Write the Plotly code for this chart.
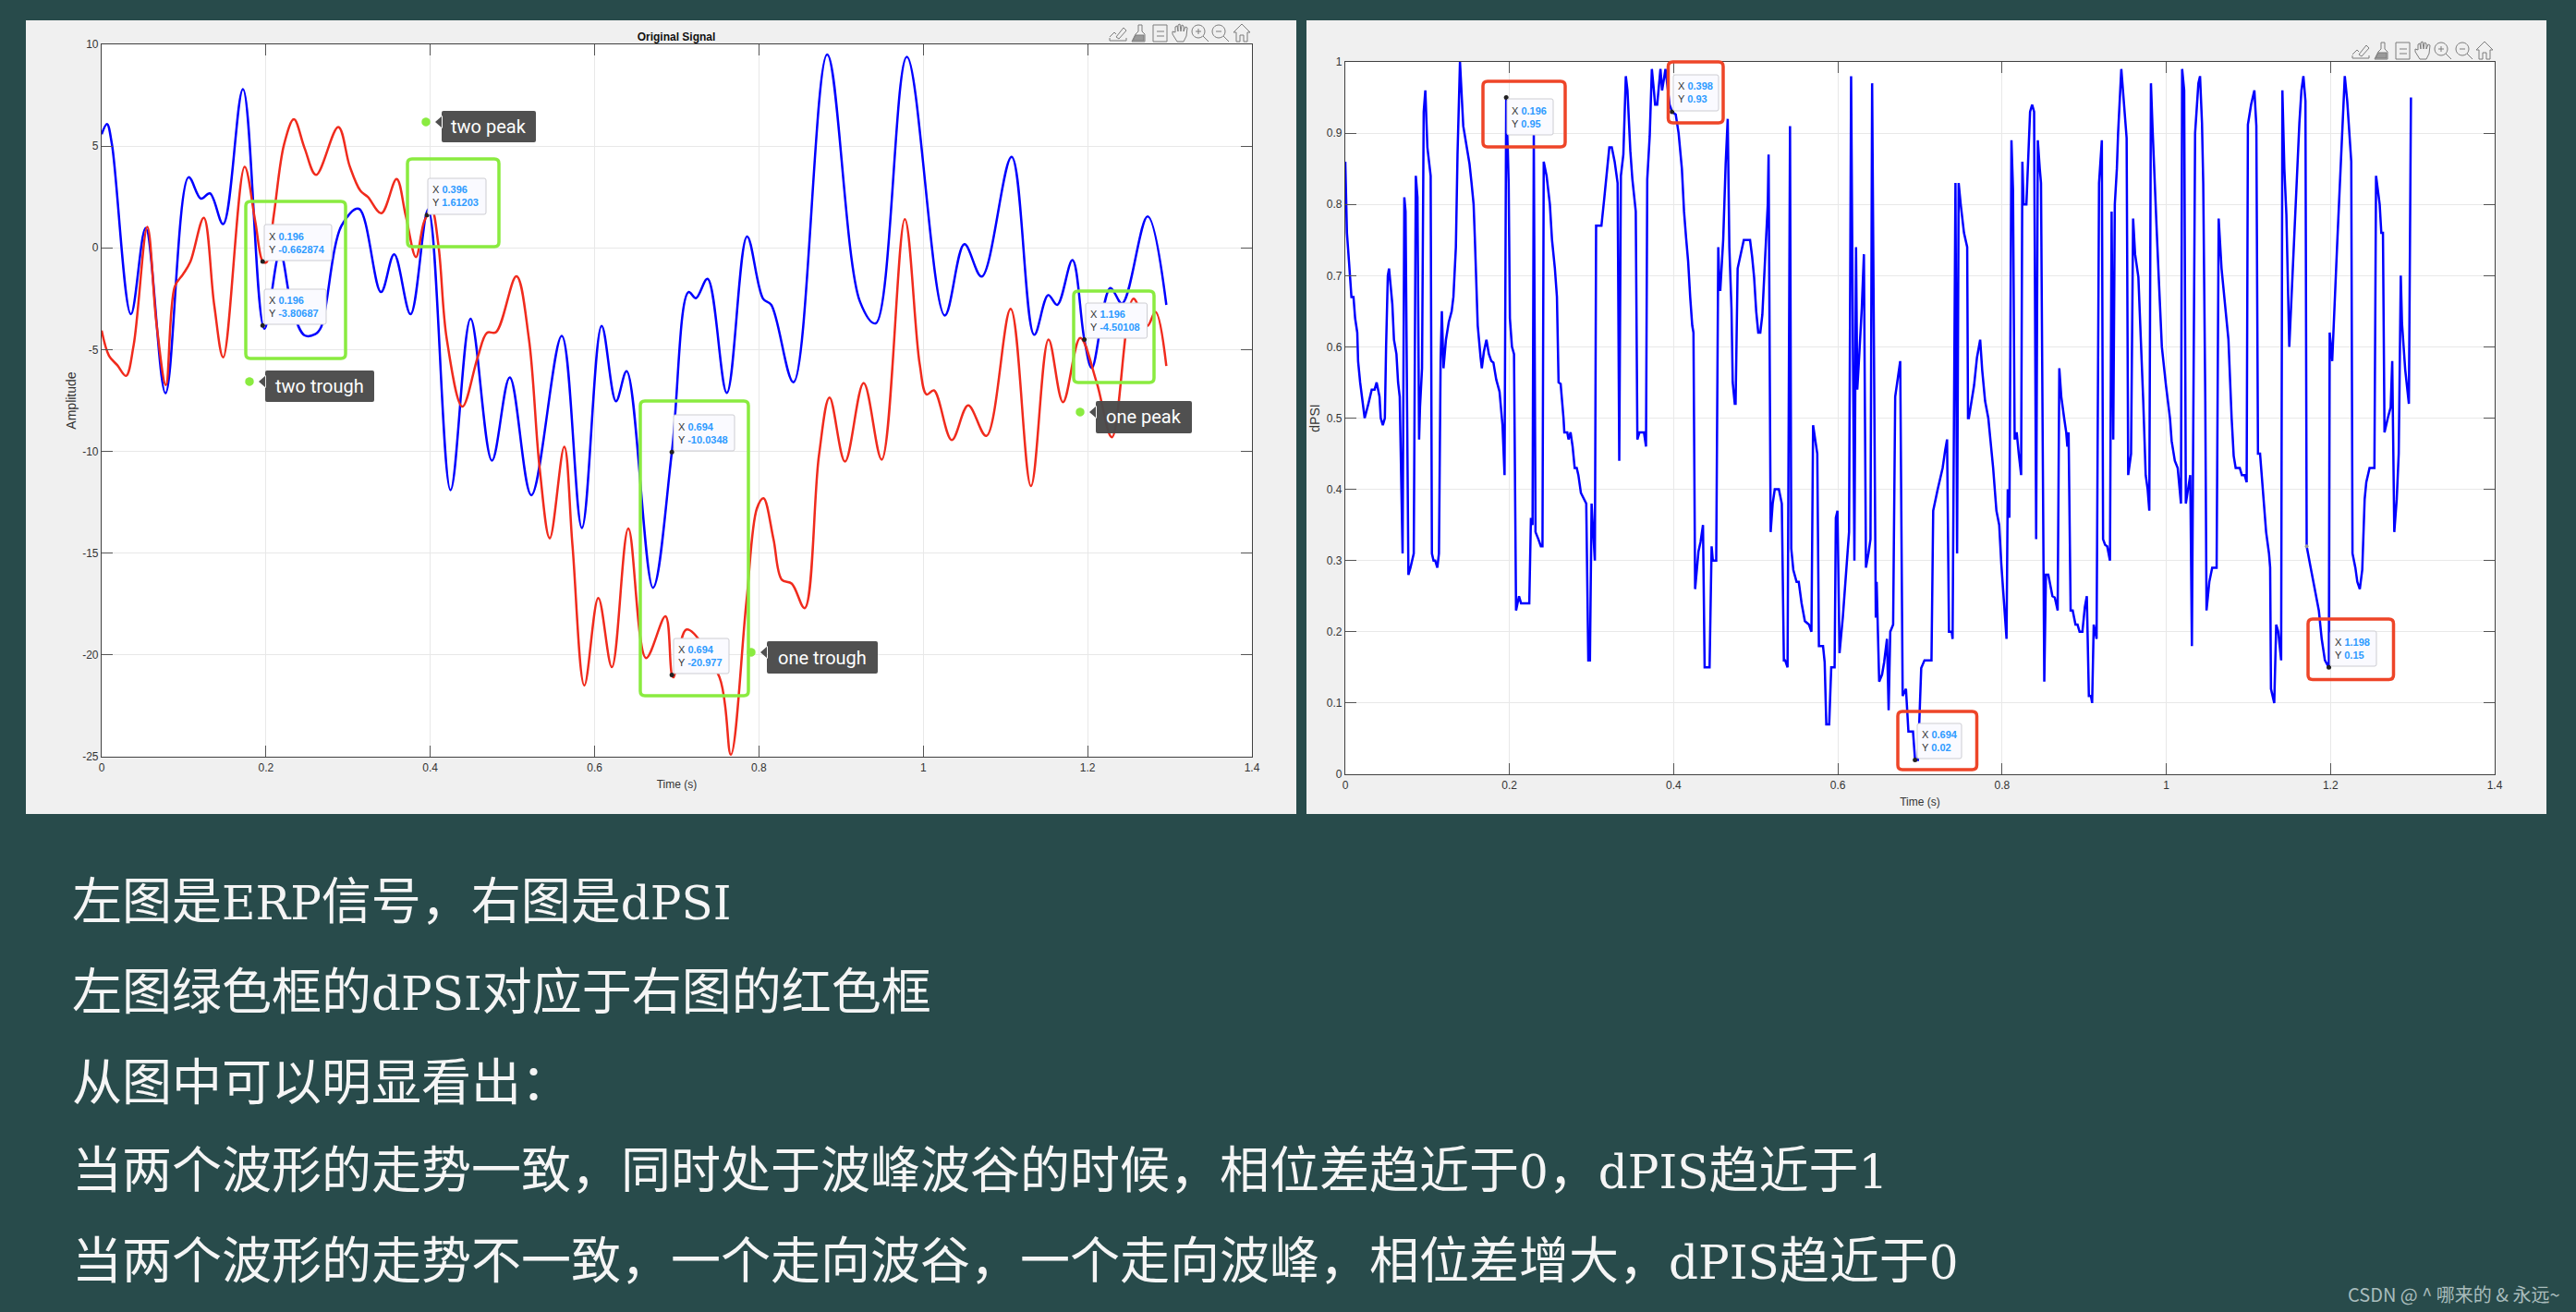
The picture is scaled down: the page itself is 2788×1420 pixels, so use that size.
import re
import numpy as np
import plotly.graph_objects as go

W, H = 2788, 1420

# ---------- data ----------
blue_t = [0,.0065,.0125,.0356,.0536,.0777,.1058,.1208,.1318,.1479,.172,.198,.217,.232,.247,.26,.267,.292,.313,.34,.356,.376,.3975,
          .4246,.449,.475,.4967,.523,.56,.5845,.6085,.626,.639,.671,.694,.7143,.7233,.7374,.7609,.7855,.805,.815,.842,.883,.923,.942,
          .98,1.0261,1.05,1.071,1.1075,1.1349,1.152,1.163,1.1815,1.196,1.2051,1.2276,1.242,1.273,1.2958]
blue_v = [5.58,6.08,5.1,-3.26,.98,-7.14,3.47,2.42,2.68,1.17,7.8,-3.98,-.2,-3.0,-4.3,-4.24,-3.9,1.1,1.92,-2.17,-.32,-3.26,1.9,
          -11.9,-3.48,-10.45,-6.36,-12.15,-4.32,-13.76,-3.83,-7.53,-6.06,-16.7,-10.03,-2.17,-2.47,-1.52,-7.12,.56,-2.5,-2.8,-6.6,9.5,-2.65,-3.71,
          9.39,-3.32,.18,-1.41,4.47,-4.27,-2.32,-2.8,-.6,-4.5,-5.9,-1.97,-2.73,1.55,-2.8]
red_t = [0,.009,.019,.0296,.039,.0556,.0667,.0782,.089,.099,.108,.1243,.137,.148,.174,.187,.196,.2005,.2095,.222,.234,.247,.261,.288,.302,.315,.324,.3404,.359,.37,.3825,.3925,.4015,
         .41,.42,.439,.4576,.469,.48,.5048,.52,.533,.5454,.563,.573,.5875,.6045,.621,.641,.6625,.6862,.694,.6962,.712,.752,.7658,.7847,.7975,.8055,.8176,.8277,.84,.8556,.873,.8859,
         .9047,.9274,.9494,.9775,.9955,1.004,1.013,1.0346,1.0546,1.0767,1.1063,1.131,1.1524,1.17,1.191,1.2109,1.2296,1.2556,1.2726,1.2826,1.2958]
red_v = [-4.06,-5.3,-5.76,-6.29,-4.77,1.03,-3.7,-6.74,-1.9,-1.3,-.68,1.48,-2.8,-5.38,3.98,1.29,-.66,-.71,1.6,5.08,6.32,4.9,3.59,5.94,4.0,2.8,2.5,1.7,3.38,1.6,-.45,1.29,1.9,
         .08,-4.47,-7.8,-5.38,-4.17,-4.14,-1.39,-4.47,-10.8,-14.27,-9.77,-14.6,-21.5,-17.2,-20.6,-13.79,-20.15,-18.1,-20.98,-21.1,-18.75,-21.1,-24.9,-17.4,-12.8,-12.3,-14.3,-16.3,-16.5,-17.7,-10.2,-7.35,
         -10.5,-6.64,-10.4,1.41,-5.68,-7.2,-7,-9.44,-7.74,-9.24,-3,-11.7,-4.5,-7.58,-4.42,-6.6,-9.3,-2.5,-3.83,-3.14,-5.8]

dpsi_t = [0,.002,.0045,.0075,.01,.012,.0146,.0156,.0181,.0206,.0236,.0281,.0322,.0357,.0382,.0417,.0432,.0457,.0482,.0497,.0518,.0533,.0573,.0593,.0623,.0643,.0663,
 .0698,.0719,.0734,.0769,.0794,.0834,.0859,.0879,.0899,.091,.0935,.0955,.0975,.1,.104,.1055,.1075,.1095,.1121,.1141,.1161,.1176,.1196,.1226,.1261,.1296,.1317,.1347,.1367,.1397,
 .1437,.1477,.1513,.1538,.1563,.1578,.1613,.1648,.1663,.1688,.1719,.1749,.1779,.1804,.1839,.1879,.1904,.1915,.194,.196,.199,.2005,.203,.2055,.208,.2116,.2141,.2241,.2261,.2281,.2296,
 .2317,.2352,.2382,.2402,.2417,.2452,.2492,.2518,.2553,.2578,.2598,.2623,.2643,.2658,.2668,.2704,.2719,.2744,.2769,.2794,.2819,.2839,.287,.2894,.2935,.296,.298,.3,.304,.3055,.312,
 .3156,.3186,.3216,.3246,.3281,.3317,.3337,.3357,.3387,.3417,.3437,.3472,.3497,.3538,.3558,.3583,.3638,.3663,.3678,.3708,.3734,.3759,.3774,.3799,.3839,.3859,.39,.395,.398,.4025,
 .406,.41,.4126,.4151,.4176,.4201,.4226,.4241,.4261,.4302,.4327,.4357,.4377,.4437,.4462,.4477,.4518,.4543,.4558,.4568,.4603,.4633,.4658,.4678,.4704,.4719,.4744,.4754,.4779,.4854,
 .493,.4955,.498,.5005,.503,.5055,.508,.5116,.5146,.5156,.5181,.5206,.5231,.5281,.5317,.5342,.5357,.5387,.5417,.5432,.5457,.5497,.5523,.5558,.5598,.5648,.5678,.5698,.5749,.5769,
 .5819,.5839,.5859,.5894,.5919,.596,.5975,.5995,.602,.606,.61,.6136,.6161,.6201,.6221,.6236,.6261,.6291,.6317,.6342,.6372,.6397,.6417,.6462,.6472,.6503,.6538,.6563,.6598,.6618,
 .6638,.6673,.6698,.6724,.6759,.6789,.6829,.6859,.6915,.694,.6975,.7015,.7055,.714,.7161,.7216,.7276,.7307,.733,.7353,.7387,.7397,.7432,.7452,.7471,.7496,.7536,.7575,.7585,.7595,
 .7634,.7659,.7694,.7733,.7758,.7793,.7832,.7857,.7891,.7931,.7965,.799,.802,.8054,.8069,.8089,.8114,.8133,.8153,.8178,.8203,.8232,.8247,.8262,.8296,.8316,.8341,.8366,.839,.8415,
 .8435,.8459,.8474,.8514,.8534,.8563,.8613,.8642,.8677,.8697,.8721,.8756,.8781,.8795,.881,.8835,.886,.8894,.8919,.8944,.8978,.9008,.9032,.9057,.9082,.9097,.9116,.9151,.9181,.9215,
 .923,.9255,.928,.9314,.9334,.9354,.9373,.9398,.9413,.9452,.9487,.9517,.9536,.9571,.9596,.962,.966,.9694,.9719,.9749,.9773,.9793,.9813,.9833,.9857,.9882,.9907,.9946,.9996,1.0045,
 1.0065,1.0104,1.0139,1.0179,1.0193,1.0218,1.0238,1.0263,1.0292,1.0312,1.0351,1.0391,1.0411,1.0435,1.045,1.0475,1.049,1.0524,1.0559,1.0613,1.0638,1.0673,1.0712,1.0757,1.0796,1.0821,
 1.0845,1.0895,1.092,1.0954,1.0979,1.0994,1.1033,1.1073,1.1097,1.1117,1.1142,1.1167,1.1191,1.1216,1.1251,1.1265,1.1275,1.1315,1.1339,1.1364,1.1399,1.1414,1.1438,1.1463,1.1498,1.1527,
 1.1562,1.1586,1.1621,1.1646,1.167,1.1695,1.171,1.1759,1.1809,1.1858,1.1893,1.1932,1.198,1.199,1.2021,1.2046,1.208,1.2115,1.2145,1.2174,1.2204,1.2253,1.2268,1.2303,1.2327,1.2357,
 1.2387,1.2416,1.2436,1.2476,1.2535,1.2555,1.2599,1.2619,1.2639,1.2658,1.2698,1.2733,1.2752,1.2777,1.2807,1.2831,1.2856,1.2871,1.291,1.2955,1.298]
dpsi_v = [.86,.76,.72,.67,.67,.64,.62,.58,.55,.53,.50,.52,.54,.54,.55,.53,.50,.49,.50,.60,.70,.71,.66,.61,.59,.55,.53,
 .31,.81,.79,.28,.29,.31,.84,.81,.47,.515,.57,.93,.96,.88,.84,.31,.30,.30,.29,.31,.58,.65,.57,.61,.635,.65,.67,.74,.87,1.0,
 .91,.88,.857,.83,.8,.753,.63,.585,.57,.593,.61,.59,.58,.578,.554,.537,.5,.49,.42,.95,.83,.64,.6,.59,.23,.25,.24,.24,.36,.35,.9,
 .34,.33,.32,.32,.86,.84,.8,.75,.71,.67,.55,.548,.524,.5,.48,.48,.47,.48,.46,.43,.43,.42,.395,.39,.38,.16,.16,.38,.3,.77,.77,
 .81,.844,.88,.88,.86,.83,.44,.84,.87,.98,.96,.875,.835,.79,.47,.48,.48,.46,.835,.896,.99,.96,.94,.94,.99,.96,.99,.94,.93,.926,
 .9,.85,.79,.753,.72,.67,.63,.62,.26,.313,.326,.35,.15,.15,.32,.3,.3,.74,.68,.68,.75,.857,.92,.74,.654,.55,.52,.52,.71,.75,
 .75,.727,.697,.65,.62,.62,.645,.73,.8,.87,.34,.38,.4,.4,.38,.16,.16,.15,.91,.317,.287,.27,.27,.24,.215,.21,.2,.49,.45,.18,
 .18,.157,.07,.07,.15,.15,.36,.37,.17,.22,.287,.34,.98,.3,.74,.54,.59,.654,.73,.29,.31,.33,.97,.22,.27,.13,.14,.157,.19,.09,
 .2,.21,.53,.55,.58,.11,.12,.06,.06,.02,.02,.149,.16,.16,.37,.4,.43,.455,.47,.2,.2,.19,.83,.31,.83,.8,.76,.74,.5,.5,
 .525,.546,.585,.61,.567,.524,.5,.473,.43,.37,.35,.296,.24,.19,.4,.36,.89,.82,.47,.48,.45,.42,.86,.8,.8,.87,.93,.94,.93,.33,
 .89,.85,.83,.13,.28,.28,.25,.248,.23,.57,.53,.5,.48,.46,.48,.23,.23,.21,.21,.2,.2,.235,.25,.11,.11,.1,.21,.19,.83,.89,
 .33,.322,.32,.3,.79,.47,.8,.85,.9,.99,.936,.893,.42,.45,.78,.73,.698,.61,.525,.42,.4,.37,.97,.906,.83,.767,.7,.6,.546,.5,
 .468,.44,.43,.38,.99,.96,.38,.4,.42,.18,.9,.97,.98,.914,.83,.525,.23,.27,.29,.29,.78,.71,.663,.61,.5,.447,
 .43,.43,.42,.42,.41,.912,.94,.96,.91,.45,.45,.41,.37,.34,.31,.29,.12,.1,.21,.2,.16,.96,.85,.785,.6,.676,
 .775,.82,.914,.96,.98,.945,.32,.29,.26,.23,.19,.16,.15,.62,.58,.654,.74,.83,.914,.98,.945,.86,.31,.29,.27,.26,
 .287,.386,.41,.43,.43,.84,.8,.76,.76,.48,.5,.515,.58,.34,.386,.45,.7,.633,.568,.52,.95]

x_ticks = [0,.2,.4,.6,.8,1,1.2,1.4]
x_labels = ["0","0.2","0.4","0.6","0.8","1","1.2","1.4"]
amp_ticks = [-25,-20,-15,-10,-5,0,5,10]
amp_labels = ["-25","-20","-15","-10","-5","0","5","10"]
psi_ticks = [0,.1,.2,.3,.4,.5,.6,.7,.8,.9,1]
psi_labels = ["0","0.1","0.2","0.3","0.4","0.5","0.6","0.7","0.8","0.9","1"]

tip_amp_x = [.196,.196,.396,.694,.694,1.196]
tip_amp_y = [-.662874,-3.80687,1.61203,-10.0348,-20.977,-4.50108]
tip_amp_lab_y = ["-0.662874","-3.80687","1.61203","-10.0348","-20.977","-4.50108"]
tip_amp_lab_x = ["0.196","0.196","0.396","0.694","0.694","1.196"]
tip_psi_x = [.196,.398,.694,1.198]
tip_psi_y = [.95,.93,.02,.15]
tip_psi_lab_x = ["0.196","0.398","0.694","1.198"]
tip_psi_lab_y = ["0.95","0.93","0.02","0.15"]
stray_tip_x = [1.171]
stray_tip_y = [.32]

caption_lines = ["左图是ERP信号，右图是dPSI",
                 "左图绿色框的dPSI对应于右图的红色框",
                 "从图中可以明显看出：",
                 "当两个波形的走势一致，同时处于波峰波谷的时候，相位差趋近于0，dPIS趋近于1",
                 "当两个波形的走势不一致，一个走向波谷，一个走向波峰，相位差增大，dPIS趋近于0"]

# ---------- layout constants (pixels) ----------
BG = "#284B4B"; PANEL = "#F0F0F0"; GREEN = "#8AEB40"; ORANGE = "#EE4528"
def fx(x): return x / W
def fy(y): return 1 - y / H

def rrect(x0, y0, x1, y1, r=5):
    return (f"M{fx(x0+r)},{fy(y0)} L{fx(x1-r)},{fy(y0)} Q{fx(x1)},{fy(y0)} {fx(x1)},{fy(y0+r)} "
            f"L{fx(x1)},{fy(y1-r)} Q{fx(x1)},{fy(y1)} {fx(x1-r)},{fy(y1)} "
            f"L{fx(x0+r)},{fy(y1)} Q{fx(x0)},{fy(y1)} {fx(x0)},{fy(y1-r)} "
            f"L{fx(x0)},{fy(y0+r)} Q{fx(x0)},{fy(y0)} {fx(x0+r)},{fy(y0)} Z")
def rectshape(x0, y0, x1, y1, color, layer="below"):
    return dict(type="rect", xref="paper", yref="paper", x0=fx(x0), x1=fx(x1), y0=fy(y1), y1=fy(y0),
                fillcolor=color, line=dict(width=0), layer=layer)
def pathshape(path, line=None, lw=0, fill=None, opacity=1):
    s = dict(type="path", xref="paper", yref="paper", path=path, layer="above", opacity=opacity,
             line=dict(color=line or "rgba(0,0,0,0)", width=lw))
    if fill: s["fillcolor"] = fill
    return s
def poly(pts, close=False):
    s = "M" + " L".join(f"{fx(x)},{fy(y)}" for x, y in pts)
    return s + (" Z" if close else "")
def circle(cx, cy, r, n=20):
    a = np.linspace(0, 2*np.pi, n, endpoint=False)
    return poly([(cx + r*np.cos(t), cy + r*np.sin(t)) for t in a], True)

shapes = [rectshape(28, 22, 1403, 881, PANEL), rectshape(1414, 22, 2756, 881, PANEL),
          rectshape(110, 48, 1355, 819, "#FFFFFF"), rectshape(1456, 67, 2700, 838, "#FFFFFF")]

annotations = []

# tooltips
def tooltip(x0, y0, x1, y1, xval, yval):
    shapes.append(pathshape(rrect(x0, y0, x1, y1, 2), line="#CDCDD2", lw=1, fill="#FAFAFF"))
    blue = "#2E9BFF"
    annotations.append(dict(xref="paper", yref="paper", x=fx(x0+3), y=fy((y0+y1)/2), xanchor="left", yanchor="middle",
        showarrow=False, align="left", font=dict(family="Liberation Sans", size=11, color="#333333"),
        text=f"X <span style='color:{blue}'><b>{xval}</b></span><br>Y <span style='color:{blue}'><b>{yval}</b></span>"))

amp_boxes = [(286,243,359,282),(286,313,353,351),(463,193,526,232),(729,449,795,488),(729,691,789,729),(1175,328,1241.5,366)]
psi_boxes = [(1631,107,1681,146),(1811,81,1860,120),(2075,783,2123,821),(2522,683,2572,721)]
for b, a, c in zip(amp_boxes, tip_amp_lab_x, tip_amp_lab_y): tooltip(*b, a, c)
for b, a, c in zip(psi_boxes, tip_psi_lab_x, tip_psi_lab_y): tooltip(*b, a, c)

# highlight boxes
for b in [(266,218,374,388),(441,172,540,267),(693,434,810,753),(1162,315,1249,414)]:
    shapes.append(pathshape(rrect(*b), line=GREEN, lw=3.5))
for b in [(1605,88,1694,159),(1805.5,67,1865,133),(2054,770,2139.5,833),(2498,670,2590.5,735.6)]:
    shapes.append(pathshape(rrect(*b), line=ORANGE, lw=3.5))

# dark labels with a pointer and a green dot
def tag(text, x0, y0, x1, y1, dotx, doty):
    ym = doty
    shapes.append(pathshape(rrect(x0, y0, x1, y1, 2) + " " + poly([(x0+1, ym-7), (x0-7, ym), (x0+1, ym+7)], True), fill="#4A4A4A", opacity=.97))
    shapes.append(pathshape(circle(dotx, doty, 4.7), fill=GREEN))
    annotations.append(dict(xref="paper", yref="paper", x=fx((x0+x1)/2), y=fy((y0+y1)/2), showarrow=False,
                            xanchor="center", yanchor="middle", font=dict(family="Roboto", size=20, color="#FFFFFF"), text=text))
tag("two peak", 478, 120, 580, 154, 461, 132)
tag("two trough", 287, 401, 405, 435, 270, 413)
tag("one peak", 1186, 434, 1290, 469, 1169, 446)
tag("one trough", 830, 694, 950, 729, 813, 706)

# axes toolbar icons
def toolbar(xs, cy):
    c = "#7D7D7D"
    def add(path, fill=None): shapes.append(pathshape(path, line=c, lw=1, fill=fill))
    x = xs[0]
    add(poly([(x-2,cy+4),(x+6,cy-6),(x+9,cy-3),(x+1,cy+6),(x-2,cy+4)]))
    add(poly([(x-9,cy+4),(x-4,cy-1),(x-2,cy+1)])); add(poly([(x-9,cy+5),(x-9,cy+8),(x+9,cy+8),(x+9,cy+5)]))
    x = xs[1]
    add(poly([(x-1,cy-9),(x+3,cy-9),(x+3,cy-2),(x+6,cy+1),(x+6,cy+9),(x-8,cy+9),(x-4,cy+1),(x-1,cy-2)], True))
    add(poly([(x-7,cy+8),(x-4,cy+2),(x+5,cy+2),(x+5,cy+8)], True), fill="#9A9A9A")
    x = xs[2]
    add(poly([(x-7,cy-9),(x+8,cy-9),(x+8,cy+9),(x-7,cy+9)], True))
    add(poly([(x-3,cy-2),(x+5,cy-2)])); add(poly([(x-3,cy+3),(x+5,cy+3)]))
    x = xs[3]
    add(poly([(x-3,cy+9),(x-8,cy+1),(x-8,cy-2),(x-5,cy-1),(x-5,cy-7),(x-3,cy-8),(x-2,cy-2),(x-2,cy-9),(x,cy-10),(x+1,cy-2),
              (x+2,cy-9),(x+4,cy-8),(x+4,cy-2),(x+6,cy-7),(x+8,cy-6),(x+7,cy+3),(x+4,cy+9)], True))
    for k, sign in ((4, 1), (5, 0)):
        x = xs[k]
        add(circle(x-2, cy-2, 7)); add(poly([(x+3,cy+3),(x+9,cy+9)]))
        add(poly([(x-5,cy-2),(x+1,cy-2)]))
        if sign: add(poly([(x-2,cy-5),(x-2,cy+1)]))
    x = xs[6]
    add(poly([(x-9,cy-1),(x,cy-10),(x+9,cy-1),(x+6,cy-1),(x+6,cy+9),(x+2,cy+9),(x+2,cy+2),(x-2,cy+2),(x-2,cy+9),(x-6,cy+9),(x-6,cy-1)], True))
toolbar([1210,1233,1255,1277,1299,1321,1344], 36)
toolbar([2555,2578,2600,2622,2644,2667,2689], 55)

# caption: Latin runs are set a little smaller than the CJK text
def latin_small(s):
    return re.sub(r"([A-Za-z0-9]+)", r"<span style='font-size:50px'>\1</span>", s)
for line, y in zip(caption_lines, [976, 1074, 1172, 1267, 1365]):
    annotations.append(dict(xref="paper", yref="paper", x=fx(76), y=fy(y), xanchor="left", yanchor="middle", showarrow=False,
                            font=dict(family="DejaVu Serif, Noto Sans CJK SC", size=54, color="#F5F5F5"), text=latin_small(line)))
annotations.append(dict(xref="paper", yref="paper", x=fx(2772), y=fy(1400), xanchor="right", yanchor="middle", showarrow=False,
                        font=dict(family="Noto Sans CJK SC", size=20, color="#A9BCBC"), text="CSDN @ ^ 哪来的 & 永远~"))

fig = go.Figure()
fig.add_trace(go.Scatter(x=blue_t, y=blue_v, mode="lines", line=dict(color="#0000FF", width=2.5, shape="spline", smoothing=1), xaxis="x", yaxis="y", name="blue"))
fig.add_trace(go.Scatter(x=red_t, y=red_v, mode="lines", line=dict(color="#F02B1D", width=2.5, shape="spline", smoothing=1), xaxis="x", yaxis="y", name="red"))
fig.add_trace(go.Scatter(x=tip_amp_x, y=tip_amp_y, mode="markers", marker=dict(color="#222222", size=5), xaxis="x", yaxis="y", name="tips"))
fig.add_trace(go.Scatter(x=dpsi_t, y=dpsi_v, mode="lines", line=dict(color="#0000FF", width=2.5), xaxis="x2", yaxis="y2", name="dPSI"))
fig.add_trace(go.Scatter(x=tip_psi_x, y=tip_psi_y, mode="markers", marker=dict(color="#222222", size=5), xaxis="x2", yaxis="y2", name="tips"))
fig.add_trace(go.Scatter(x=stray_tip_x, y=stray_tip_y, mode="markers", marker=dict(color="#9A9A9A", size=4), xaxis="x2", yaxis="y2", name="stray tip"))

def axis(domain, rng, tv, tt, title, standoff, anchor, tsize=12):
    return dict(domain=domain, range=rng, tickmode="array", tickvals=tv, ticktext=tt, ticks="inside", ticklen=12, tickwidth=1,
                tickcolor="#555555", showline=True, linecolor="#404040", linewidth=1.2, mirror="ticks", showgrid=True,
                gridcolor="#E8E8E8", gridwidth=1, zeroline=False, tickfont=dict(family="Liberation Sans", size=12, color="#333333"),
                title=dict(text=title, standoff=standoff, font=dict(family="Liberation Sans", size=tsize, color="#333333")),
                anchor=anchor, automargin=False)

fig.update_layout(
    width=W, height=H, margin=dict(l=0, r=0, t=0, b=0), showlegend=False,
    paper_bgcolor=BG, plot_bgcolor="#FFFFFF", shapes=shapes, annotations=annotations,
    title=dict(text="<b>Original Signal</b>", x=732/W, y=1-40/H, xanchor="center", yanchor="middle",
               font=dict(family="Liberation Sans", size=12, color="#111111")),
    xaxis=axis([fx(110), fx(1355)], [0, 1.4], x_ticks, x_labels, "Time (s)", 8, "y"),
    yaxis=axis([fy(819), fy(48)], [-25, 10], amp_ticks, amp_labels, "Amplitude", 3, "x", 14),
    xaxis2=axis([fx(1456), fx(2700)], [0, 1.4], x_ticks, x_labels, "Time (s)", 8, "y2"),
    yaxis2=axis([fy(838), fy(67)], [0, 1], psi_ticks, psi_labels, "dPSI", 3, "x2", 14),
)
fig.write_html("out.html", config={"displayModeBar": False},
               post_script="document.body.style.margin='0';document.body.style.overflow='hidden';")
